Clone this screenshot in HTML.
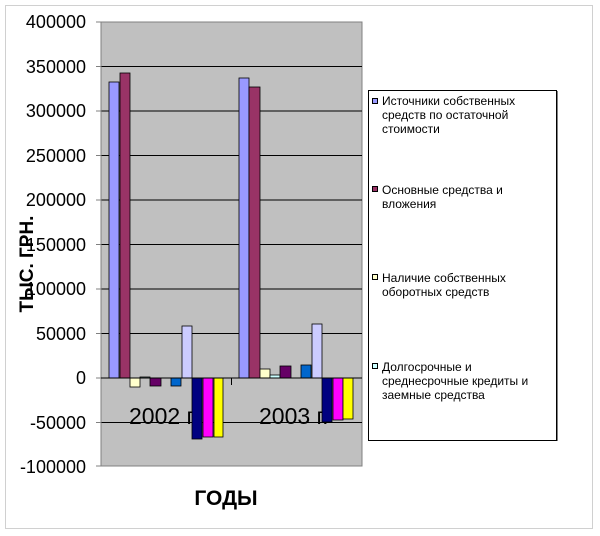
<!DOCTYPE html>
<html><head><meta charset="utf-8"><style>body{margin:0;background:#fff}svg{display:block}</style></head><body>
<svg width="600" height="536" xmlns="http://www.w3.org/2000/svg" font-family="Liberation Sans, Arial, sans-serif">
<rect x="0" y="0" width="600" height="536" fill="#fff"/>
<rect x="5.5" y="5.5" width="587" height="523" fill="#fff" stroke="#d0d0d0"/>
<rect x="101" y="22" width="261" height="444" fill="#c0c0c0" stroke="#808080"/>
<g stroke="#000" stroke-width="1">
<line x1="101" y1="66.5" x2="362" y2="66.5"/><line x1="101" y1="111" x2="362" y2="111"/>
<line x1="101" y1="155.5" x2="362" y2="155.5"/><line x1="101" y1="200" x2="362" y2="200"/>
<line x1="101" y1="244.5" x2="362" y2="244.5"/><line x1="101" y1="289" x2="362" y2="289"/>
<line x1="101" y1="333.5" x2="362" y2="333.5"/><line x1="101" y1="422.5" x2="362" y2="422.5"/>
</g>
<g stroke="#808080"><line x1="101" y1="22" x2="101" y2="466"/>
<line x1="96" y1="22" x2="101" y2="22"/><line x1="96" y1="66.5" x2="101" y2="66.5"/><line x1="96" y1="111" x2="101" y2="111"/><line x1="96" y1="155.5" x2="101" y2="155.5"/><line x1="96" y1="200" x2="101" y2="200"/><line x1="96" y1="244.5" x2="101" y2="244.5"/><line x1="96" y1="289" x2="101" y2="289"/><line x1="96" y1="333.5" x2="101" y2="333.5"/><line x1="96" y1="378" x2="101" y2="378"/><line x1="96" y1="422.5" x2="101" y2="422.5"/><line x1="96" y1="466" x2="101" y2="466"/></g>
<g font-size="18" text-anchor="end" fill="#000">
<text x="86" y="28">400000</text><text x="86" y="73">350000</text><text x="86" y="117">300000</text><text x="86" y="162">250000</text><text x="86" y="206">200000</text><text x="86" y="251">150000</text><text x="86" y="295">100000</text><text x="86" y="340">50000</text><text x="86" y="384">0</text><text x="86" y="429">-50000</text><text x="86" y="473">-100000</text>
</g>
<text transform="translate(33,264) rotate(-90)" font-size="19" font-weight="bold" text-anchor="middle">ТЫС. ГРН.</text>
<text x="226" y="505" font-size="21" font-weight="bold" text-anchor="middle">ГОДЫ</text>
<g font-size="23" fill="#000"><text x="129" y="424">2002 г.</text><text x="259" y="424">2003 г.</text></g>
<g stroke="#000" stroke-width="0.8">
<rect x="109" y="82" width="10" height="296" fill="#9999ff"/>
<rect x="120" y="73" width="10" height="305" fill="#993366"/>
<rect x="130" y="378" width="10" height="9" fill="#ffffcc"/>
<rect x="140" y="377" width="10" height="1" fill="#ccffff"/>
<rect x="150" y="378" width="11" height="8" fill="#660066"/>
<rect x="171" y="378" width="10" height="8" fill="#0066cc"/>
<rect x="182" y="326" width="10" height="52" fill="#ccccff"/>
<rect x="192" y="378" width="10" height="61" fill="#000080"/>
<rect x="203" y="378" width="10" height="59" fill="#ff00ff"/>
<rect x="214" y="378" width="9" height="59" fill="#ffff00"/>
<rect x="239" y="78" width="10" height="300" fill="#9999ff"/>
<rect x="249" y="87" width="11" height="291" fill="#993366"/>
<rect x="260" y="369" width="10" height="9" fill="#ffffcc"/>
<rect x="270" y="375" width="10" height="3" fill="#ccffff"/>
<rect x="280" y="366" width="11" height="12" fill="#660066"/>
<rect x="301" y="365" width="10" height="13" fill="#0066cc"/>
<rect x="312" y="324" width="10" height="54" fill="#ccccff"/>
<rect x="322" y="378" width="10" height="44" fill="#000080"/>
<rect x="333" y="378" width="10" height="42" fill="#ff00ff"/>
<rect x="343" y="378" width="10" height="41" fill="#ffff00"/>
</g>
<line x1="101" y1="378" x2="362" y2="378" stroke="#000"/>
<line x1="231.5" y1="378" x2="231.5" y2="385" stroke="#000"/>
<rect x="368.5" y="90.5" width="188" height="350" fill="#fff" stroke="#000"/>
<line x1="557.5" y1="91" x2="557.5" y2="441" stroke="#808080"/>
<g font-size="12" fill="#000">
<rect x="372.5" y="98.5" width="5" height="5" fill="#9999ff" stroke="#000"/>
<text x="382" y="105">Источники собственных</text><text x="382" y="119">средств по остаточной</text><text x="382" y="133">стоимости</text>
<rect x="372.5" y="186.5" width="5" height="5" fill="#993366" stroke="#000"/>
<text x="382" y="194">Основные средства и</text><text x="382" y="208">вложения</text>
<rect x="372.5" y="274.5" width="5" height="5" fill="#ffffcc" stroke="#000"/>
<text x="382" y="282">Наличие собственных</text><text x="382" y="296">оборотных средств</text>
<rect x="372.5" y="363.5" width="5" height="5" fill="#ccffff" stroke="#000"/>
<text x="382" y="371">Долгосрочные и</text><text x="382" y="385">среднесрочные кредиты и</text><text x="382" y="399">заемные средства</text>
</g>
</svg>
</body></html>
